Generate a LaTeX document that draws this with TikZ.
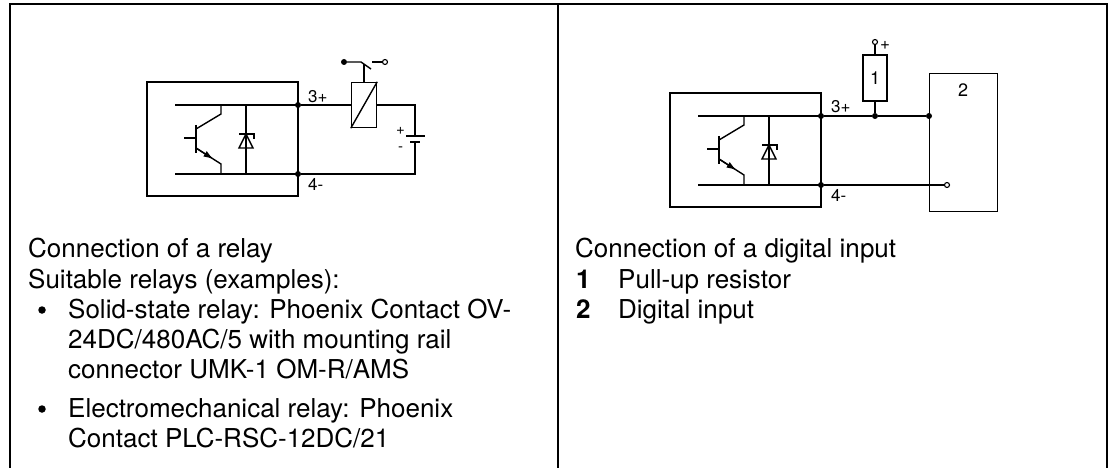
\documentclass[tikz,border=0pt]{standalone}
\usepackage{fontspec}
\setmainfont{TeX Gyre Heros}
\usetikzlibrary{arrows.meta}
\tikzset{
  wire/.style={line width=1.4pt, line join=miter},
  frame/.style={line width=2.6pt, line join=miter},
  jdot/.style={circle,fill=black,inner sep=0pt,minimum size=6pt},
  odot/.style={circle,draw=black,fill=white,line width=1.1pt,inner sep=0pt,minimum size=5pt},
  bul/.style={circle,fill=black,inner sep=0pt,minimum size=7.5pt},
  lbl/.style={font=\fontsize{17}{19}\selectfont,inner sep=0pt,anchor=base west},
  slbl/.style={font=\fontsize{15}{16}\selectfont,inner sep=0pt,anchor=base west},
  txt/.style={font=\fontsize{26}{30}\selectfont,anchor=base west,inner sep=0pt},
  optoout/.pic={
    \draw[wire] (0,0) rectangle (151,114);
    \coordinate (-p) at (151,23);
    \coordinate (-n) at (151,92);
    \coordinate (-pi) at (28,23);
    \coordinate (-ni) at (28,92);
    \draw[wire] (-pi) -- (-p);
    \draw[wire] (-ni) -- (-n);
    \draw[wire] (74,23) -- (74,32) -- (49,47);
    \draw[wire] (49,43) -- (49,71);
    \draw[wire] (37,56) -- (49,56);
    \draw[wire] (49,66) -- (74,82) -- (74,92);
    \draw[wire,-{Latex[length=10pt,width=6.5pt]}] (49,66) -- (66.5,77.2);
    \draw[wire] (99,23) -- (99,92);
    \draw[wire] (92,66) -- (106,66) -- (99,52) -- cycle;
    \draw[wire] (92,52) -- (107,52) -- (107,57);
  }
}
\begin{document}
\begin{tikzpicture}[x=1pt,y=-1pt]
\useasboundingbox (0,0) rectangle (1112,468);
% table frame
\draw[frame] (10,470) -- (10,4) -- (1107,4) -- (1107,470);
\draw[frame] (558,4) -- (558,470);

% ---------- left circuit ----------
\pic (L) at (147,82) {optoout};
\node[jdot] (l3) at (L-p) {};
\node[jdot] (l4) at (L-n) {};
\node[lbl] (l3t) at (308,103) {3+};
\node[lbl] (l4t) at (308,190) {4-};
\node[draw,wire,inner sep=0pt,minimum width=25pt,minimum height=45pt] (coil) at (364,105) {};
\draw[wire] (coil.south west) -- (coil.north east);
\draw[wire] (l3) -- (coil.west);
\coordinate (bt) at (415,136);
\coordinate (bb) at (415,142);
\coordinate (lc) at (415,174);
\draw[wire] (coil.east) -| (bt);
\draw[wire] (bb) -- (lc) -- (l4);
\draw[wire] (406,136) -- (425,136);
\draw[wire] (410,142) -- (420,142);
\node[slbl] (bplus) at (396,135) {+};
\node[slbl] (bminus) at (398,152) {-};
% relay contact
\node[jdot] (sw1) at (344,62) {};
\coordinate (swk) at (361,62);
\coordinate (swb) at (371,69);
\coordinate (swc) at (372,62);
\node[odot] (sw2) at (385,62) {};
\draw[wire] (sw1) -- (swk) -- (swb);
\draw[wire] (coil.north) -- (364,64);
\draw[wire] (swc) -- (sw2);

% ---------- right circuit ----------
\pic (R) at (670,93) {optoout};
\node[jdot] (r3) at (R-p) {};
\node[jdot] (r4) at (R-n) {};
\node[lbl] (r3t) at (831,113) {3+};
\node[lbl] (r4t) at (831,201) {4-};
\node[draw,wire,inner sep=0pt,minimum width=24pt,minimum height=46pt,font=\fontsize{18}{20}\selectfont] (res) at (875,78) {1};
\node[jdot] (rj) at (875,116) {};
\node[draw,wire,inner sep=0pt,minimum width=68pt,minimum height=138pt,anchor=north west] (din) at (929,73) {};
\node[font=\fontsize{18}{20}\selectfont,inner sep=0pt] (dinlbl) at (963,90) {2};
\node[jdot] (rb) at (929,116) {};
\node[odot] (rtop) at (875,42) {};
\node[lbl] (rplus) at (880,50) {+};
\node[odot] (rin) at (947,185) {};
\draw[wire] (r3) -- (rj) -- (rb);
\draw[wire] (rj) -- (res.south);
\draw[wire] (res.north) -- (rtop);
\draw[wire] (r4) -- (rin);

% ---------- texts ----------
\node[txt] (t1) at (28,258) {Connection of a relay};
\node[txt] (t2) at (28,288) {Suitable relays (examples):};
\node[bul] (b1) at (42,310) {};
\node[txt] (t3) at (68,318) {Solid-state relay: Phoenix Contact OV-};
\node[txt] (t4) at (68,348) {24DC/480AC/5 with mounting rail};
\node[txt] (t5) at (68,378) {connector UMK-1 OM-R/AMS};
\node[bul] (b2) at (42,409) {};
\node[txt] (t6) at (68,417) {Electromechanical relay: Phoenix};
\node[txt] (t7) at (68,447) {Contact PLC-RSC-12DC/21};

\node[txt] (u1) at (575,258) {Connection of a digital input};
\node[txt,font=\fontsize{26}{30}\selectfont\bfseries] (n1) at (576,288) {1};
\node[txt] (u2) at (618,288) {Pull-up resistor};
\node[txt,font=\fontsize{26}{30}\selectfont\bfseries] (n2) at (576,318) {2};
\node[txt] (u3) at (618,318) {Digital input};
\end{tikzpicture}
\end{document}
